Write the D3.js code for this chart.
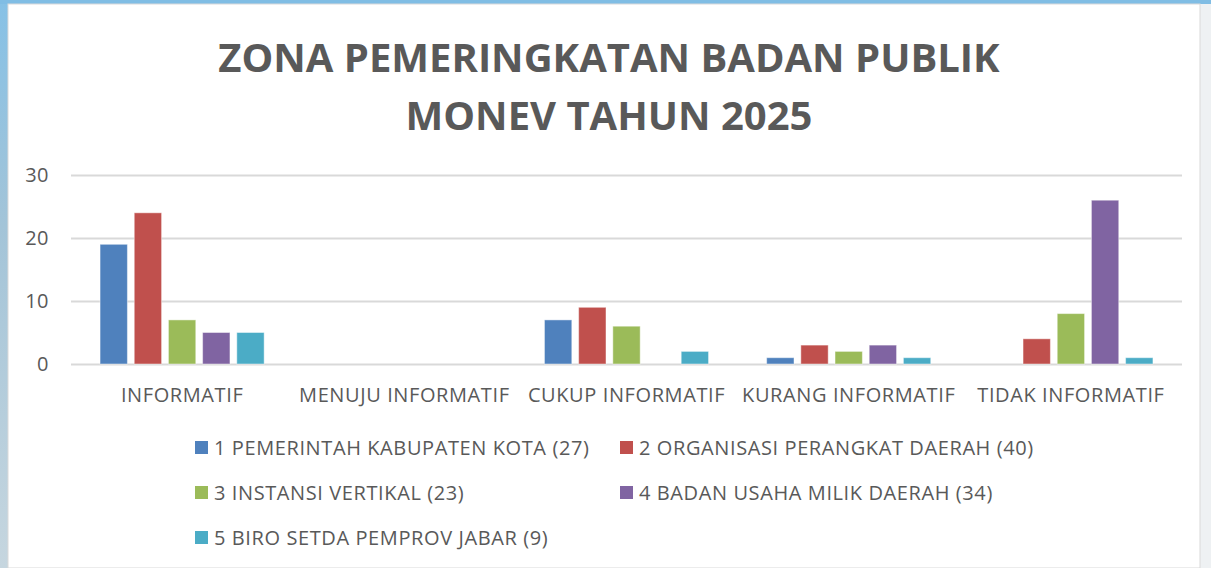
<!DOCTYPE html>
<html>
<head>
<meta charset="utf-8">
<script src="https://cdn.jsdelivr.net/npm/d3@7"></script>
<style>
  html, body { margin: 0; padding: 0; background: #eef1f3; }
  svg { display: block; font-family: 'Open Sans', sans-serif; }
</style>
</head>
<body>
<svg width="1211" height="568"></svg>
<script>
const categories = ['INFORMATIF', 'MENUJU INFORMATIF', 'CUKUP INFORMATIF', 'KURANG INFORMATIF', 'TIDAK INFORMATIF'];
const seriesNames = [
  '1 PEMERINTAH KABUPATEN KOTA (27)',
  '2 ORGANISASI PERANGKAT DAERAH (40)',
  '3 INSTANSI VERTIKAL (23)',
  '4 BADAN USAHA MILIK DAERAH (34)',
  '5 BIRO SETDA PEMPROV JABAR (9)'
];
const pemkab = [19, 0, 7, 1, 0];
const opd = [24, 0, 9, 3, 4];
const vertikal = [7, 0, 6, 2, 8];
const bumd = [5, 0, 0, 3, 26];
const biro = [5, 0, 2, 1, 1];
const yTicks = [0, 10, 20, 30];
const colors = ['#4F81BD', '#C0504D', '#9BBB59', '#8064A2', '#4BACC6'];
const titleLines = ['ZONA PEMERINGKATAN BADAN PUBLIK', 'MONEV TAHUN 2025'];

const seriesValues = [pemkab, opd, vertikal, bumd, biro];

const svg = d3.select('svg');
const width = +svg.attr('width');
const height = +svg.attr('height');

// slide backdrop
const defs = svg.append('defs');
const lg = defs.append('linearGradient').attr('id', 'side').attr('x1', 0).attr('y1', 0).attr('x2', 0).attr('y2', 1);
lg.append('stop').attr('offset', '0%').attr('stop-color', '#86c1e6');
lg.append('stop').attr('offset', '40%').attr('stop-color', '#a3c4d8');
lg.append('stop').attr('offset', '100%').attr('stop-color', '#c6d6df');
svg.append('rect').attr('width', width).attr('height', height).attr('fill', '#eef1f3');
svg.append('rect').attr('width', 9).attr('height', height).attr('fill', 'url(#side)');
svg.append('rect').attr('width', width).attr('height', 4).attr('fill', '#80bde4');
svg.append('rect').attr('x', 8).attr('y', 4).attr('width', 1192).attr('height', height - 4)
  .attr('fill', '#ffffff').attr('stroke', '#d9d9d9').attr('stroke-width', 1);

// title
svg.append('g').selectAll('text')
  .data(titleLines)
  .enter().append('text')
    .attr('x', 609)
    .attr('y', (d, i) => 72 + i * 58)
    .attr('text-anchor', 'middle')
    .attr('font-size', 40)
    .attr('font-weight', 'bold')
    .attr('fill', '#595959')
    .text(d => d);

const margin = { left: 71, right: 29, top: 175, bottom: 204 };
const x = d3.scaleBand()
    .domain(categories)
    .range([margin.left, width - margin.right]);
const xInner = d3.scaleBand()
    .domain(d3.range(seriesNames.length))
    .range([0, x.bandwidth()])
    .paddingInner(0.2)
    .paddingOuter(0.85);
const y = d3.scaleLinear()
    .domain([0, 30])
    .range([height - margin.bottom, margin.top]);

// gridlines
const grid = svg.append('g')
    .attr('transform', `translate(${margin.left},0)`)
    .call(d3.axisLeft(y).tickValues(yTicks).tickSize(-(width - margin.left - margin.right)).tickFormat(''));
grid.select('.domain').remove();
grid.selectAll('line').attr('stroke', '#d9d9d9').attr('stroke-width', 2);

// y labels
const yAxis = svg.append('g')
    .attr('transform', 'translate(49,0)')
    .call(d3.axisLeft(y).tickValues(yTicks).tickSize(0).tickPadding(0));
yAxis.select('.domain').remove();
yAxis.selectAll('text').attr('font-size', 20).attr('fill', '#595959')
    .attr('font-family', 'Open Sans, sans-serif').attr('letter-spacing', 0.5);

// bars
const groups = svg.append('g').selectAll('g')
  .data(categories)
  .enter().append('g')
    .attr('transform', d => `translate(${x(d)},0)`);
groups.selectAll('rect')
  .data((c, ci) => seriesValues.map((s, si) => ({ si, v: s[ci] })).filter(d => d.v > 0))
  .enter().append('rect')
    .attr('x', d => xInner(d.si))
    .attr('width', xInner.bandwidth())
    .attr('y', d => y(d.v))
    .attr('height', d => y(0) - y(d.v))
    .attr('fill', d => colors[d.si])
    .attr('stroke', 'rgba(255,255,255,0.45)')
    .attr('stroke-width', 1);

// category labels
const xAxis = svg.append('g')
    .attr('transform', `translate(0,${y(0)})`)
    .call(d3.axisBottom(x).tickSize(0).tickPadding(24));
xAxis.select('.domain').remove();
xAxis.selectAll('text').attr('font-size', 20).attr('fill', '#595959')
    .attr('font-family', 'Open Sans, sans-serif').attr('letter-spacing', 0.6);

// legend
const legend = svg.append('g').selectAll('g')
  .data(seriesNames)
  .enter().append('g')
    .attr('transform', (d, i) => `translate(${i % 2 ? 620 : 195},${441 + Math.floor(i / 2) * 45})`);
legend.append('rect')
    .attr('width', 13).attr('height', 13)
    .attr('fill', (d, i) => colors[i]);
legend.append('text')
    .attr('x', 19).attr('y', 13.5)
    .attr('font-size', 20)
    .attr('letter-spacing', 0.6)
    .attr('fill', '#595959')
    .text(d => d);
</script>
</body>
</html>
